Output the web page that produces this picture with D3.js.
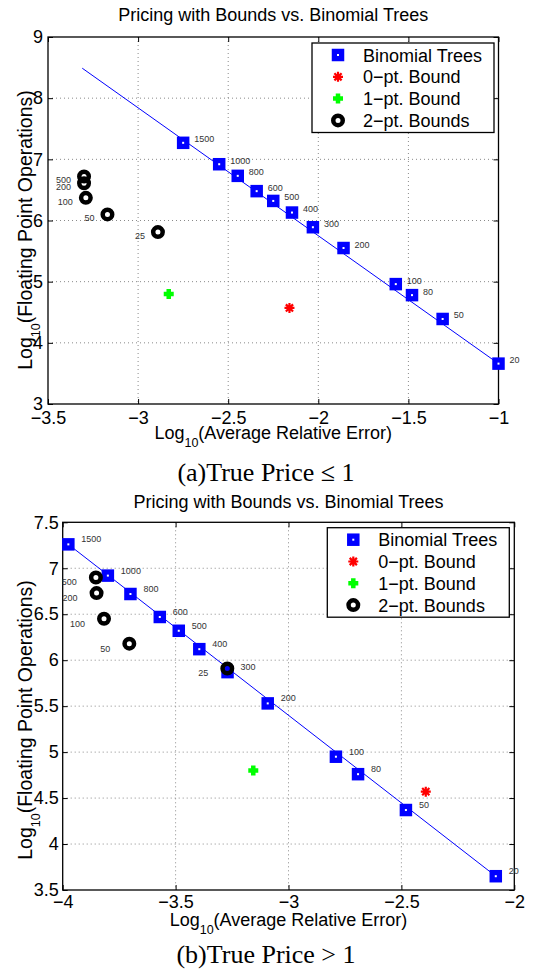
<!DOCTYPE html>
<html>
<head>
<meta charset="utf-8">
<script src="https://cdn.jsdelivr.net/npm/d3@7"></script>
<style>
	body { margin: 0; background: #fff; }
	svg { display: block; font-family: "Liberation Sans", Arial, sans-serif; }
	.grid line { stroke: #8a8a8a; stroke-width: 1; stroke-dasharray: 1 3; }
	.ticks line { stroke: #000; stroke-width: 1; }
	.ticks text { font-size: 18px; fill: #000; }
	.step-label { font-size: 9px; fill: #333; }
</style>
</head>
<body>
<svg id="chart" width="540" height="972"></svg>
<script>
const titleText = "Pricing with Bounds vs. Binomial Trees";
const legendLabels = ["Binomial Trees", "0\u2212pt. Bound", "1\u2212pt. Bound", "2\u2212pt. Bounds"];
const captionA = "(a)True Price \u2264 1";
const captionB = "(b)True Price > 1";

// tree sizes / number of steps shown next to the markers
const binomialSteps = [1500, 1000, 800, 600, 500, 400, 300, 200, 100, 80, 50, 20];
const twoPtSteps = [500, 200, 100, 50, 25];

// panel (a): true price <= 1
const xTicksA = [-3.5, -3, -2.5, -2, -1.5, -1];
const yTicksA = [3, 4, 5, 6, 7, 8, 9];
const binomialErrA = [-2.75, -2.55, -2.447, -2.342, -2.25, -2.146, -2.03, -1.86, -1.57, -1.48, -1.31, -1.0];
const binomialOpsA = [7.27, 6.92, 6.73, 6.48, 6.32, 6.13, 5.89, 5.55, 4.96, 4.78, 4.39, 3.66];
const fitErrA = [-3.31, -1.0];
const fitOpsA = [8.49, 3.66];
const zeroPtErrA = [-2.16];
const zeroPtOpsA = [4.57];
const onePtErrA = [-2.83];
const onePtOpsA = [4.80];
const twoPtErrA = [-3.30, -3.30, -3.29, -3.17, -2.89];
const twoPtOpsA = [6.72, 6.61, 6.37, 6.10, 5.81];

// panel (b): true price > 1
const xTicksB = [-4, -3.5, -3, -2.5, -2];
const yTicksB = [3.5, 4, 4.5, 5, 5.5, 6, 6.5, 7, 7.5];
const binomialErrB = [-3.975, -3.80, -3.70, -3.57, -3.486, -3.395, -3.27, -3.092, -2.79, -2.692, -2.48, -2.082];
const binomialOpsB = [7.26, 6.92, 6.72, 6.47, 6.32, 6.12, 5.87, 5.53, 4.95, 4.76, 4.37, 3.65];
const fitErrB = [-3.975, -2.082];
const fitOpsB = [7.26, 3.65];
const zeroPtErrB = [-2.392];
const zeroPtOpsB = [4.57];
const onePtErrB = [-3.156];
const onePtOpsB = [4.80];
const twoPtErrB = [-3.853, -3.85, -3.817, -3.705, -3.271];
const twoPtOpsB = [6.90, 6.73, 6.45, 6.18, 5.91];

const svg = d3.select("#chart");
const fmt = d3.format("");

// markers, matlab style
function square(g, x, y) {
	g.append("rect").attr("x", x - 6.25).attr("y", y - 6.25).attr("width", 12.5).attr("height", 12.5).attr("fill", "#0000ff");
	g.append("rect").attr("x", x - 1).attr("y", y - 1).attr("width", 2).attr("height", 2).attr("fill", "#fff");
}
function star(g, x, y) {
	const r = 5, d = r * 0.72;
	g.append("path")
		.attr("d", `M${x - r},${y}H${x + r}M${x},${y - r}V${y + r}M${x - d},${y - d}L${x + d},${y + d}M${x - d},${y + d}L${x + d},${y - d}`)
		.attr("stroke", "#ff0000").attr("stroke-width", 2.2).attr("fill", "none");
}
function plus(g, x, y) {
	const r = 5;
	g.append("path")
		.attr("d", `M${x - r},${y}H${x + r}M${x},${y - r}V${y + r}`)
		.attr("stroke", "#00ff00").attr("stroke-width", 4.5).attr("fill", "none");
}
function ring(g, x, y) {
	g.append("circle").attr("cx", x).attr("cy", y).attr("r", 4.75)
		.attr("fill", "none").attr("stroke", "#000").attr("stroke-width", 4.5);
}

function logLabel(text, rest, sub) {
	text.append("tspan").text("Log");
	text.append("tspan").attr("font-size", 12.5).attr("dy", sub).text("10");
	text.append("tspan").attr("dy", -sub).text(rest);
}

function drawPanel(p) {
	const g = svg.append("g");
	const x = d3.scaleLinear().domain(p.xDomain).range([p.left, p.right]);
	const y = d3.scaleLinear().domain(p.yDomain).range([p.bottom, p.top]);
	const w = p.right - p.left, h = p.bottom - p.top;

	// dotted grid
	const grid = g.append("g").attr("class", "grid");
	grid.selectAll(".gx").data(p.xTicks.slice(1, -1)).enter().append("line")
		.attr("x1", (d) => x(d)).attr("x2", (d) => x(d)).attr("y1", p.top).attr("y2", p.bottom);
	grid.selectAll(".gy").data(p.yTicks.slice(1, -1)).enter().append("line")
		.attr("y1", (d) => y(d)).attr("y2", (d) => y(d)).attr("x1", p.left).attr("x2", p.right);

	// ticks inward on all four sides
	const axes = [
		[d3.axisBottom(x).tickValues(p.xTicks).tickFormat(fmt).tickPadding(p.xPad), `translate(0,${p.bottom})`],
		[d3.axisTop(x).tickValues(p.xTicks).tickFormat(""), `translate(0,${p.top})`],
		[d3.axisLeft(y).tickValues(p.yTicks).tickFormat(fmt).tickPadding(p.yPad), `translate(${p.left},0)`],
		[d3.axisRight(y).tickValues(p.yTicks).tickFormat(""), `translate(${p.right},0)`],
	];
	axes.forEach(([ax, tr]) => {
		const a = g.append("g").attr("class", "ticks").attr("transform", tr)
			.call(ax.tickSizeInner(-5).tickSizeOuter(0));
		a.select(".domain").remove();
		a.attr("font-family", null).attr("font-size", null);
	});

	g.append("rect").attr("x", p.left).attr("y", p.top).attr("width", w).attr("height", h)
		.attr("fill", "none").attr("stroke", "#000").attr("stroke-width", 1.3);

	// fitted line through the binomial tree results
	const line = d3.line().x((d) => x(d[0])).y((d) => y(d[1]));
	g.append("path").datum(d3.zip(p.fitErr, p.fitOps)).attr("d", line)
		.attr("fill", "none").attr("stroke", "#0000ff").attr("stroke-width", 1);

	p.binErr.forEach((e, i) => square(g, x(e), y(p.binOps[i])));
	g.selectAll(".bl").data(binomialSteps).enter().append("text").attr("class", "step-label")
		.attr("x", (d, i) => x(p.binErr[i]) + p.binDx)
		.attr("y", (d, i) => y(p.binOps[i]) + p.binDy)
		.text((d) => d);

	p.zeroErr.forEach((e, i) => star(g, x(e), y(p.zeroOps[i])));
	p.oneErr.forEach((e, i) => plus(g, x(e), y(p.oneOps[i])));
	p.twoErr.forEach((e, i) => ring(g, x(e), y(p.twoOps[i])));
	g.selectAll(".tl").data(twoPtSteps).enter().append("text").attr("class", "step-label")
		.attr("text-anchor", "end")
		.attr("x", (d, i) => x(p.twoErr[i]) + p.twoDx)
		.attr("y", (d, i) => y(p.twoOps[i]) + p.twoDy)
		.text((d) => d);

	// legend
	const lg = g.append("g");
	lg.append("rect").attr("x", p.legX).attr("y", p.legY).attr("width", 182).attr("height", 89.5)
		.attr("fill", "#fff").attr("stroke", "#000").attr("stroke-width", 1.3);
	const markers = [square, star, plus, ring];
	legendLabels.forEach((t, i) => {
		const cy = p.legY + 12 + i * 21.8;
		markers[i](lg, p.legX + 26, cy);
		lg.append("text").attr("x", p.legX + 51).attr("y", cy + 6.5).attr("font-size", 18).text(t);
	});

	// titles and labels
	g.append("text").attr("x", (p.left + p.right) / 2).attr("y", p.titleY).attr("text-anchor", "middle")
		.attr("font-size", 18).text(titleText);
	logLabel(g.append("text").attr("x", (p.left + p.right) / 2).attr("y", p.xLabelY)
		.attr("text-anchor", "middle").attr("font-size", 18), "(Average Relative Error)", 8);
	logLabel(g.append("text").attr("transform", `translate(32,${p.yLabelY}) rotate(-90)`)
		.attr("text-anchor", "middle").attr("font-size", 19.5), "(Floating Point Operations)", 8);
	g.append("text").attr("x", 266).attr("y", p.captionY).attr("text-anchor", "middle")
		.attr("font-family", "'Liberation Serif', 'Times New Roman', serif").attr("font-size", 26)
		.text(p.caption);
}

drawPanel({
	left: 48, right: 498.5, top: 37, bottom: 404,
	xDomain: [-3.5, -1], yDomain: [3, 9], xTicks: xTicksA, yTicks: yTicksA,
	xPad: 7, yPad: 5,
	binErr: binomialErrA, binOps: binomialOpsA, fitErr: fitErrA, fitOps: fitOpsA,
	zeroErr: zeroPtErrA, zeroOps: zeroPtOpsA, oneErr: onePtErrA, oneOps: onePtOpsA,
	twoErr: twoPtErrA, twoOps: twoPtOpsA,
	binDx: 11, binDy: -0.5, twoDx: -13, twoDy: 7,
	legX: 312, legY: 43,
	titleY: 21, xLabelY: 439, yLabelY: 230, captionY: 481, caption: captionA,
});

drawPanel({
	left: 62.7, right: 514.3, top: 522.3, bottom: 890,
	xDomain: [-4, -2], yDomain: [3.5, 7.5], xTicks: xTicksB, yTicks: yTicksB,
	xPad: 5, yPad: 4,
	binErr: binomialErrB, binOps: binomialOpsB, fitErr: fitErrB, fitOps: fitOpsB,
	zeroErr: zeroPtErrB, zeroOps: zeroPtOpsB, oneErr: onePtErrB, oneOps: onePtOpsB,
	twoErr: twoPtErrB, twoOps: twoPtOpsB,
	binDx: 13, binDy: -2, twoDx: -19, twoDy: 8,
	legX: 327.3, legY: 527.7,
	titleY: 507.5, xLabelY: 925.5, yLabelY: 720, captionY: 963, caption: captionB,
});
</script>
</body>
</html>
